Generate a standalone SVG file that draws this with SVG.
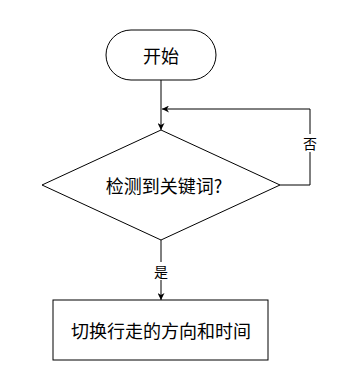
<svg xmlns="http://www.w3.org/2000/svg" width="339" height="380" viewBox="0 0 339 380">
<style>
.shape{fill:#fff;stroke:#000;stroke-width:1}
.edge{fill:none;stroke:#000;stroke-width:1}
.t{font-family:"Noto Sans CJK SC","Liberation Sans",sans-serif;fill:#000;text-anchor:middle;dominant-baseline:central}
.big{font-size:18px}
.lbl{font-size:14px}
</style>
<defs>
<marker id="arr" viewBox="0 0 10 10" refX="10" refY="5" markerWidth="7" markerHeight="7" orient="auto" markerUnits="userSpaceOnUse">
<path d="M0,0 L10,5 L0,10 L3,5 Z" fill="#000"/>
</marker>
</defs>
<rect width="339" height="380" fill="#fff"/>
<g id="connectors">
<path class="edge" d="M161,80 L161,130" marker-end="url(#arr)"/>
<path class="edge" d="M280,185 L310,185 L310,109 L162,109" marker-end="url(#arr)"/>
<path class="edge" d="M161,240 L161,300" marker-end="url(#arr)"/>
<rect x="302" y="134" width="16" height="18" fill="#fff"/>
<text class="t lbl" x="310" y="143">否</text>
<rect x="152" y="262" width="18" height="18" fill="#fff"/>
<text class="t lbl" x="161" y="271">是</text>
</g>
<g id="start">
<rect class="shape" x="106" y="30" width="110" height="50" rx="25" ry="25"/>
<text class="t big" x="161" y="55">开始</text>
</g>
<g id="decision">
<path class="shape" d="M161,130 L280,185 L161,240 L42,185 Z"/>
<text class="t big" x="164" y="185">检测到关键词?</text>
</g>
<g id="action">
<rect class="shape" x="53" y="300" width="215" height="60"/>
<text class="t big" x="161" y="330">切换行走的方向和时间</text>
</g>
</svg>
